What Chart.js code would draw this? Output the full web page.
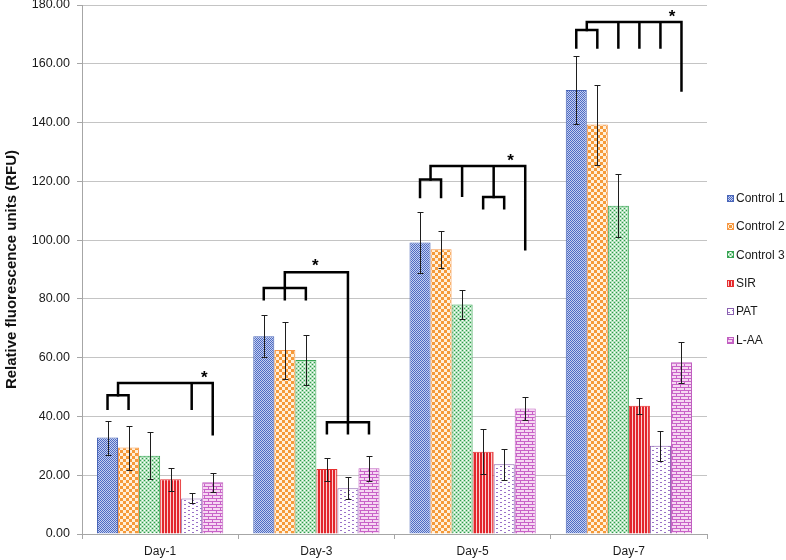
<!DOCTYPE html>
<html>
<head>
<meta charset="utf-8">
<script src="https://cdn.jsdelivr.net/npm/chart.js@4.4.0/dist/chart.umd.min.js"></script>
<style>
  html, body { margin: 0; padding: 0; background: #fff; }
  #wrap { width: 786px; height: 560px; position: relative; }
</style>
</head>
<body>
<div id="wrap"><canvas id="rfuChart"></canvas></div>
<script>
// values
const days = ['Day-1', 'Day-3', 'Day-5', 'Day-7'];
const seriesNames = ['Control 1', 'Control 2', 'Control 3', 'SIR', 'PAT', 'L-AA'];

const control1 = [32.8, 67.3, 99.2, 151.1];
const control2 = [29.4, 62.6, 96.9, 139.3];
const control3 = [26.6, 59.2, 78.1, 111.7];
const sir      = [18.6, 22.1, 28.0, 43.6];
const pat      = [12.1, 15.6, 23.7, 30.0];
const laa      = [17.6, 22.4, 42.7, 58.4];

// +/- error per bar
const control1Err = [5.8, 7.2, 10.4, 11.5];
const control2Err = [7.5, 9.7, 6.3, 13.6];
const control3Err = [8.0, 8.6, 5.0, 10.7];
const sirErr      = [3.9, 3.9, 7.6, 2.6];
const patErr      = [1.7, 3.7, 5.3, 5.2];
const laaErr      = [3.2, 4.2, 4.0, 7.0];

const yTicks = [0, 20, 40, 60, 80, 100, 120, 140, 160, 180];

// significance brackets: day index, top value, legs as [bar position, leg bottom value]
const brackets = [
  { day: 0, top: 47.2, legs: [[0, 42.6], [1, 42.6]] },
  { day: 0, top: 51.4, legs: [[0.5, 47.2], [4, 42.6], [5, 33.9]] },
  { day: 1, top: 83.7, legs: [[0, 79.9], [1, 79.9], [2, 79.9]] },
  { day: 1, top: 38.0, legs: [[3, 34.3], [4, 34.3], [5, 34.3]] },
  { day: 1, top: 89.1, legs: [[1, 83.7], [4, 38.0]] },
  { day: 2, top: 120.6, legs: [[0, 114.7], [1, 114.7]] },
  { day: 2, top: 114.7, legs: [[3, 110.8], [4, 110.8]] },
  { day: 2, top: 125.2, legs: [[0.5, 120.6], [2, 115.1], [3.5, 114.7], [5, 96.9]] },
  { day: 3, top: 171.5, legs: [[0, 165.5], [1, 165.5]] },
  { day: 3, top: 174.2, legs: [[0.5, 171.5], [2, 165.5], [3, 165.5], [4, 165.5], [5, 150.9]] }
];
// asterisks: [day, bar position, value]
const stars = [[0, 4.6, 54.1], [1, 2.45, 92.1], [2, 4.3, 127.8], [3, 4.55, 176.8]];

const FONT = "'Liberation Sans', Arial, sans-serif";
const canvas = document.getElementById('rfuChart');
const mainCtx = canvas.getContext('2d');

function makePattern(w, h, bg, fg, rects, fg2, rects2) {
    const c = document.createElement('canvas');
    c.width = w;
    c.height = h;
    const g = c.getContext('2d');
    g.fillStyle = bg;
    g.fillRect(0, 0, w, h);
    g.fillStyle = fg;
    rects.forEach(r => g.fillRect(r[0], r[1], r[2] || 1, r[3] || 1));
    if (fg2) {
        g.fillStyle = fg2;
        rects2.forEach(r => g.fillRect(r[0], r[1], r[2] || 1, r[3] || 1));
    }
    return mainCtx.createPattern(c, 'repeat');
}

const fills = [
    makePattern(2, 2, '#c6d0ef', '#4d6bc4', [[0, 0], [1, 1]]),
    makePattern(6, 6, '#fff0dc', '#f59a3a', [[0, 0, 3, 3], [3, 3, 3, 3]]),
    makePattern(4, 4, '#b3e1bd', '#2e9a4a', [[0, 0], [2, 2]], '#ffffff', [[0, 2], [2, 0]]),
    makePattern(3, 1, '#fbd0d0', '#e2262c', [[0, 0, 2, 1]]),
    makePattern(8, 4, '#ffffff', '#9a72c8', [[0, 0, 2, 1], [4, 2, 2, 1]]),
    makePattern(8, 6, '#f6d8f2', '#c862c8', [[0, 0, 8, 1], [0, 3, 8, 1], [0, 1, 1, 2], [4, 4, 1, 2]])
];
const borders = ['#4a66b8', '#f79646', '#3aa655', '#e63030', '#8a60b0', '#c060c0'];
const values = [control1, control2, control3, sir, pat, laa];
const errors = [control1Err, control2Err, control3Err, sirErr, patErr, laaErr];

function barX(chart, day, pos) {
    const lo = Math.floor(pos), hi = Math.ceil(pos);
    const a = chart.getDatasetMeta(lo).data[day].x;
    const b = chart.getDatasetMeta(hi).data[day].x;
    return a + (b - a) * (pos - lo);
}

const overlayPlugin = {
    id: 'overlay',
    afterDatasetsDraw(chart) {
        const ctx = chart.ctx;
        const y = chart.scales.y;
        ctx.save();

        // error bars
        ctx.strokeStyle = '#1e1e1e';
        ctx.lineWidth = 1;
        chart.data.datasets.forEach((ds, i) => {
            chart.getDatasetMeta(i).data.forEach((bar, j) => {
                const v = ds.data[j], e = errors[i][j];
                const x = Math.round(bar.x) + 0.5;
                const top = Math.round(y.getPixelForValue(v + e)) + 0.5;
                const bot = Math.round(y.getPixelForValue(v - e)) + 0.5;
                ctx.beginPath();
                ctx.moveTo(x, top); ctx.lineTo(x, bot);
                ctx.moveTo(x - 3, top); ctx.lineTo(x + 3, top);
                ctx.moveTo(x - 3, bot); ctx.lineTo(x + 3, bot);
                ctx.stroke();
            });
        });

        // brackets
        ctx.strokeStyle = '#000';
        ctx.lineWidth = 2.5;
        ctx.lineCap = 'square';
        brackets.forEach(b => {
            const xs = b.legs.map(l => barX(chart, b.day, l[0]));
            const yt = y.getPixelForValue(b.top);
            ctx.beginPath();
            ctx.moveTo(Math.min(...xs), yt);
            ctx.lineTo(Math.max(...xs), yt);
            b.legs.forEach((l, k) => {
                ctx.moveTo(xs[k], yt);
                ctx.lineTo(xs[k], y.getPixelForValue(l[1]));
            });
            ctx.stroke();
        });

        ctx.fillStyle = '#000';
        ctx.font = 'bold 17px ' + FONT;
        ctx.textAlign = 'center';
        ctx.textBaseline = 'middle';
        stars.forEach(s => {
            ctx.fillText('*', barX(chart, s[0], s[1]), y.getPixelForValue(s[2]) + 3);
        });
        ctx.restore();
    },
    afterDraw(chart) {
        // legend on the right, vertically centred on the plot
        const ctx = chart.ctx;
        const area = chart.chartArea;
        const step = 28.4;
        const start = (area.top + area.bottom) / 2 - step * (seriesNames.length - 1) / 2;
        ctx.save();
        ctx.font = '12px ' + FONT;
        ctx.textBaseline = 'middle';
        ctx.textAlign = 'left';
        seriesNames.forEach((name, i) => {
            const cy = start + i * step;
            ctx.fillStyle = fills[i];
            ctx.fillRect(727, Math.round(cy - 4), 7, 7);
            ctx.strokeStyle = borders[i];
            ctx.lineWidth = 1;
            ctx.strokeRect(727.5, Math.round(cy - 4) + 0.5, 6, 6);
            ctx.fillStyle = '#1a1a1a';
            ctx.fillText(name, 736, cy);
        });
        ctx.restore();
    }
};

new Chart(canvas, {
    type: 'bar',
    data: {
        labels: days,
        datasets: seriesNames.map((name, i) => ({
            label: name,
            data: values[i],
            backgroundColor: fills[i],
            borderColor: borders[i],
            borderWidth: 1,
            categoryPercentage: 0.808,
            barPercentage: 1
        }))
    },
    options: {
        responsive: true,
        maintainAspectRatio: false,
        animation: false,
        layout: { padding: { left: 0, right: 79, top: 5, bottom: 0 } },
        plugins: {
            legend: { display: false },
            tooltip: { enabled: false }
        },
        scales: {
            x: {
                grid: {
                    drawOnChartArea: false,
                    drawTicks: true,
                    tickLength: 5,
                    color: '#a6a6a6'
                },
                border: { color: '#a6a6a6' },
                ticks: {
                    color: '#1a1a1a',
                    padding: 5,
                    font: { family: FONT, size: 12 }
                },
                afterFit(scale) {
                    scale.height = 26;
                    scale.paddingLeft = 0;
                    scale.paddingRight = 0;
                }
            },
            y: {
                min: 0,
                max: 180,
                afterBuildTicks(scale) { scale.ticks = yTicks.map(v => ({ value: v })); },
                ticks: {
                    color: '#1a1a1a',
                    padding: 7,
                    font: { family: FONT, size: 12.5 },
                    callback: v => v.toFixed(2)
                },
                grid: {
                    color: '#c4c4c4',
                    tickColor: '#a6a6a6',
                    tickLength: 5
                },
                border: { color: '#a6a6a6' },
                title: {
                    display: true,
                    text: 'Relative fluorescence units (RFU)',
                    color: '#111',
                    font: { family: FONT, size: 15, weight: 'bold' },
                    padding: { top: 3, bottom: 0 }
                },
                afterFit(scale) {
                    scale.width = 82;
                    scale.paddingTop = 0;
                    scale.paddingBottom = 0;
                }
            }
        }
    },
    plugins: [overlayPlugin]
});
</script>
</body>
</html>
